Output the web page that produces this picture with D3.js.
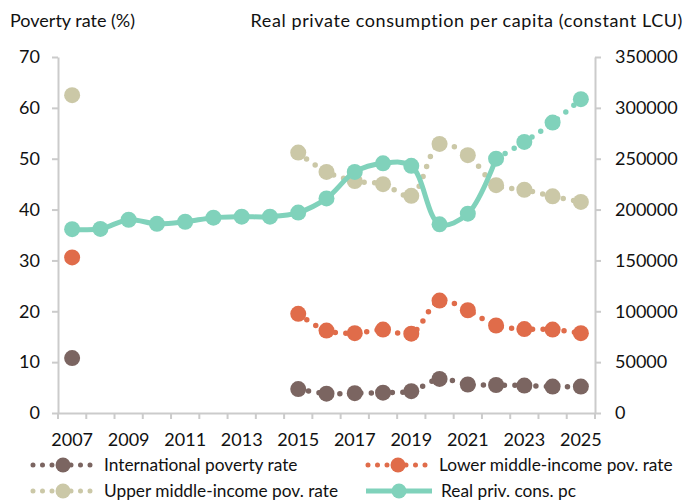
<!DOCTYPE html>
<html>
<head>
<meta charset="utf-8">
<script src="https://cdn.jsdelivr.net/npm/d3@7"></script>
<style>
    body { margin: 0; background: #fff; }
    svg text { font-family: Lato, "Open Sans", sans-serif; fill: #111; }
</style>
</head>
<body>
<div id="chart"></div>
<script>
// categories and values
const years = ['2007', '2008', '2009', '2010', '2011', '2012', '2013', '2014', '2015', '2016',
    '2017', '2018', '2019', '2020', '2021', '2022', '2023', '2024', '2025'];
const yearLabels = ['2007', '2009', '2011', '2013', '2015', '2017', '2019', '2021', '2023', '2025'];

const intlPov = [10.8, null, null, null, null, null, null, null, 4.7, 3.8, 3.9, 4.0, 4.3, 6.7, 5.6, 5.5, 5.4, 5.2, 5.2];
const lowerPov = [30.6, null, null, null, null, null, null, null, 19.5, 16.2, 15.7, 16.4, 15.6, 22.1, 20.2, 17.2, 16.5, 16.4, 15.7];
const upperPov = [62.5, null, null, null, null, null, null, null, 51.2, 47.4, 45.6, 45.0, 42.7, 52.9, 50.7, 44.8, 43.9, 42.6, 41.5];
const consPc = [180700, 181000, 190000, 186000, 188000, 192000, 193000, 193000, 197000, 211000,
    237000, 245500, 243000, 185500, 196000, 250000, 266500, 285500, 308500];
const lastActual = '2022';   // consumption is projected after this year

const leftTicks = [0, 10, 20, 30, 40, 50, 60, 70];
const rightTicks = [0, 50000, 100000, 150000, 200000, 250000, 300000, 350000];

const colors = {
    intl: '#7b6561',
    lower: '#e06c4a',
    upper: '#cbc8a7',
    cons: '#80d2bb',
    axis: '#cbcbcb'
};

const width = 698, height = 502;
const plotLeft = 58, plotRight = 595, plotTop = 57, plotBottom = 413;

const svg = d3.select('#chart')
    .append('svg')
    .attr('width', width)
    .attr('height', height);

const x = d3.scaleBand().domain(years).range([plotLeft, plotRight]).padding(0);
const cx = d => x(d) + x.bandwidth() / 2;
const yL = d3.scaleLinear().domain([0, 70]).range([plotBottom, plotTop]);
const yR = d3.scaleLinear().domain([0, 350000]).range([plotBottom, plotTop]);

// axes
const gL = svg.append('g')
    .attr('transform', `translate(${plotLeft},0)`)
    .call(d3.axisLeft(yL).tickValues(leftTicks).tickSize(6).tickSizeOuter(0).tickPadding(12));

const gR = svg.append('g')
    .attr('transform', `translate(${plotRight},0)`)
    .call(d3.axisRight(yR).tickValues(rightTicks).tickSize(6).tickSizeOuter(0).tickPadding(14).tickFormat(d3.format('d')));

const gX = svg.append('g')
    .attr('transform', `translate(0,${plotBottom})`)
    .call(d3.axisBottom(x).tickSize(0).tickSizeOuter(0).tickPadding(20)
        .tickFormat(d => yearLabels.includes(d) ? d : ''));

// tick marks sit between the categories
gX.selectAll('.edge')
    .data(years.concat(['end']))
    .enter()
    .append('line')
    .attr('class', 'edge')
    .attr('x1', d => d === 'end' ? plotRight : x(d))
    .attr('x2', d => d === 'end' ? plotRight : x(d))
    .attr('y1', 0)
    .attr('y2', 6);

[gL, gR, gX].forEach(g => {
    g.selectAll('path.domain, line').attr('stroke', colors.axis).attr('stroke-width', 2);
    g.selectAll('text').attr('font-size', '18px').attr('fill', '#111');
});

// axis titles
svg.append('text')
    .attr('x', 10)
    .attr('y', 27)
    .attr('font-size', '18px')
    .text('Poverty rate (%)');

svg.append('text')
    .attr('x', 683)
    .attr('y', 27)
    .attr('text-anchor', 'end')
    .attr('font-size', '18px')
    .attr('letter-spacing', '0.6px')
    .text('Real private consumption per capita (constant LCU)');

// poverty series: dotted line with markers
function povertySeries(values, color) {
    const pts = years.map((yr, i) => ({ yr: yr, v: values[i] }));
    const line = d3.line()
        .defined(d => d.v != null)
        .x(d => cx(d.yr))
        .y(d => yL(d.v))
        .curve(d3.curveCatmullRom);

    svg.append('path')
        .datum(pts)
        .attr('d', line)
        .attr('fill', 'none')
        .attr('stroke', color)
        .attr('stroke-width', 5.5)
        .attr('stroke-linecap', 'round')
        .attr('stroke-dasharray', '0 10.5');

    svg.append('g')
        .selectAll('circle')
        .data(pts.filter(d => d.v != null))
        .enter()
        .append('circle')
        .attr('cx', d => cx(d.yr))
        .attr('cy', d => yL(d.v))
        .attr('r', 8)
        .attr('fill', color);
}

povertySeries(intlPov, colors.intl);
povertySeries(lowerPov, colors.lower);
povertySeries(upperPov, colors.upper);

// consumption: solid until the last actual year, dotted after
const consPts = years.map((yr, i) => ({ yr: yr, v: consPc[i] }));
const cut = years.indexOf(lastActual);
const consLine = d3.line()
    .x(d => cx(d.yr))
    .y(d => yR(d.v))
    .curve(d3.curveCatmullRom);

svg.append('path')
    .datum(consPts.slice(0, cut + 1))
    .attr('d', consLine)
    .attr('fill', 'none')
    .attr('stroke', colors.cons)
    .attr('stroke-width', 5);

svg.append('path')
    .datum(consPts.slice(cut))
    .attr('d', consLine)
    .attr('fill', 'none')
    .attr('stroke', colors.cons)
    .attr('stroke-width', 5.5)
    .attr('stroke-linecap', 'round')
    .attr('stroke-dasharray', '0 10.5');

svg.append('g')
    .selectAll('circle')
    .data(consPts)
    .enter()
    .append('circle')
    .attr('cx', d => cx(d.yr))
    .attr('cy', d => yR(d.v))
    .attr('r', 8)
    .attr('fill', colors.cons);

// legend
const legendItems = [
    { label: 'International poverty rate', color: colors.intl, dotted: true, x: 33, y: 465 },
    { label: 'Lower middle-income pov. rate', color: colors.lower, dotted: true, x: 368, y: 465 },
    { label: 'Upper middle-income pov. rate', color: colors.upper, dotted: true, x: 33, y: 491 },
    { label: 'Real priv. cons. pc', color: colors.cons, dotted: false, x: 366, y: 491 }
];

const legend = svg.selectAll('.legend')
    .data(legendItems)
    .enter()
    .append('g')
    .attr('class', 'legend')
    .attr('transform', d => `translate(${d.x},${d.y})`);

legend.append('line')
    .attr('x1', 0)
    .attr('x2', d => d.dotted ? 62 : 66)
    .attr('y1', 0)
    .attr('y2', 0)
    .attr('stroke', d => d.color)
    .attr('stroke-width', 5)
    .attr('stroke-linecap', d => d.dotted ? 'round' : 'butt')
    .attr('stroke-dasharray', d => d.dotted ? '0 9.5' : null);

legend.append('circle')
    .attr('cx', d => d.dotted ? 30 : 33)
    .attr('cy', 0)
    .attr('r', 7.5)
    .attr('fill', d => d.color);

legend.append('text')
    .attr('x', d => d.dotted ? 71 : 75)
    .attr('y', 0)
    .attr('dy', '0.35em')
    .attr('font-size', '17.3px')
    .text(d => d.label);
</script>
</body>
</html>
